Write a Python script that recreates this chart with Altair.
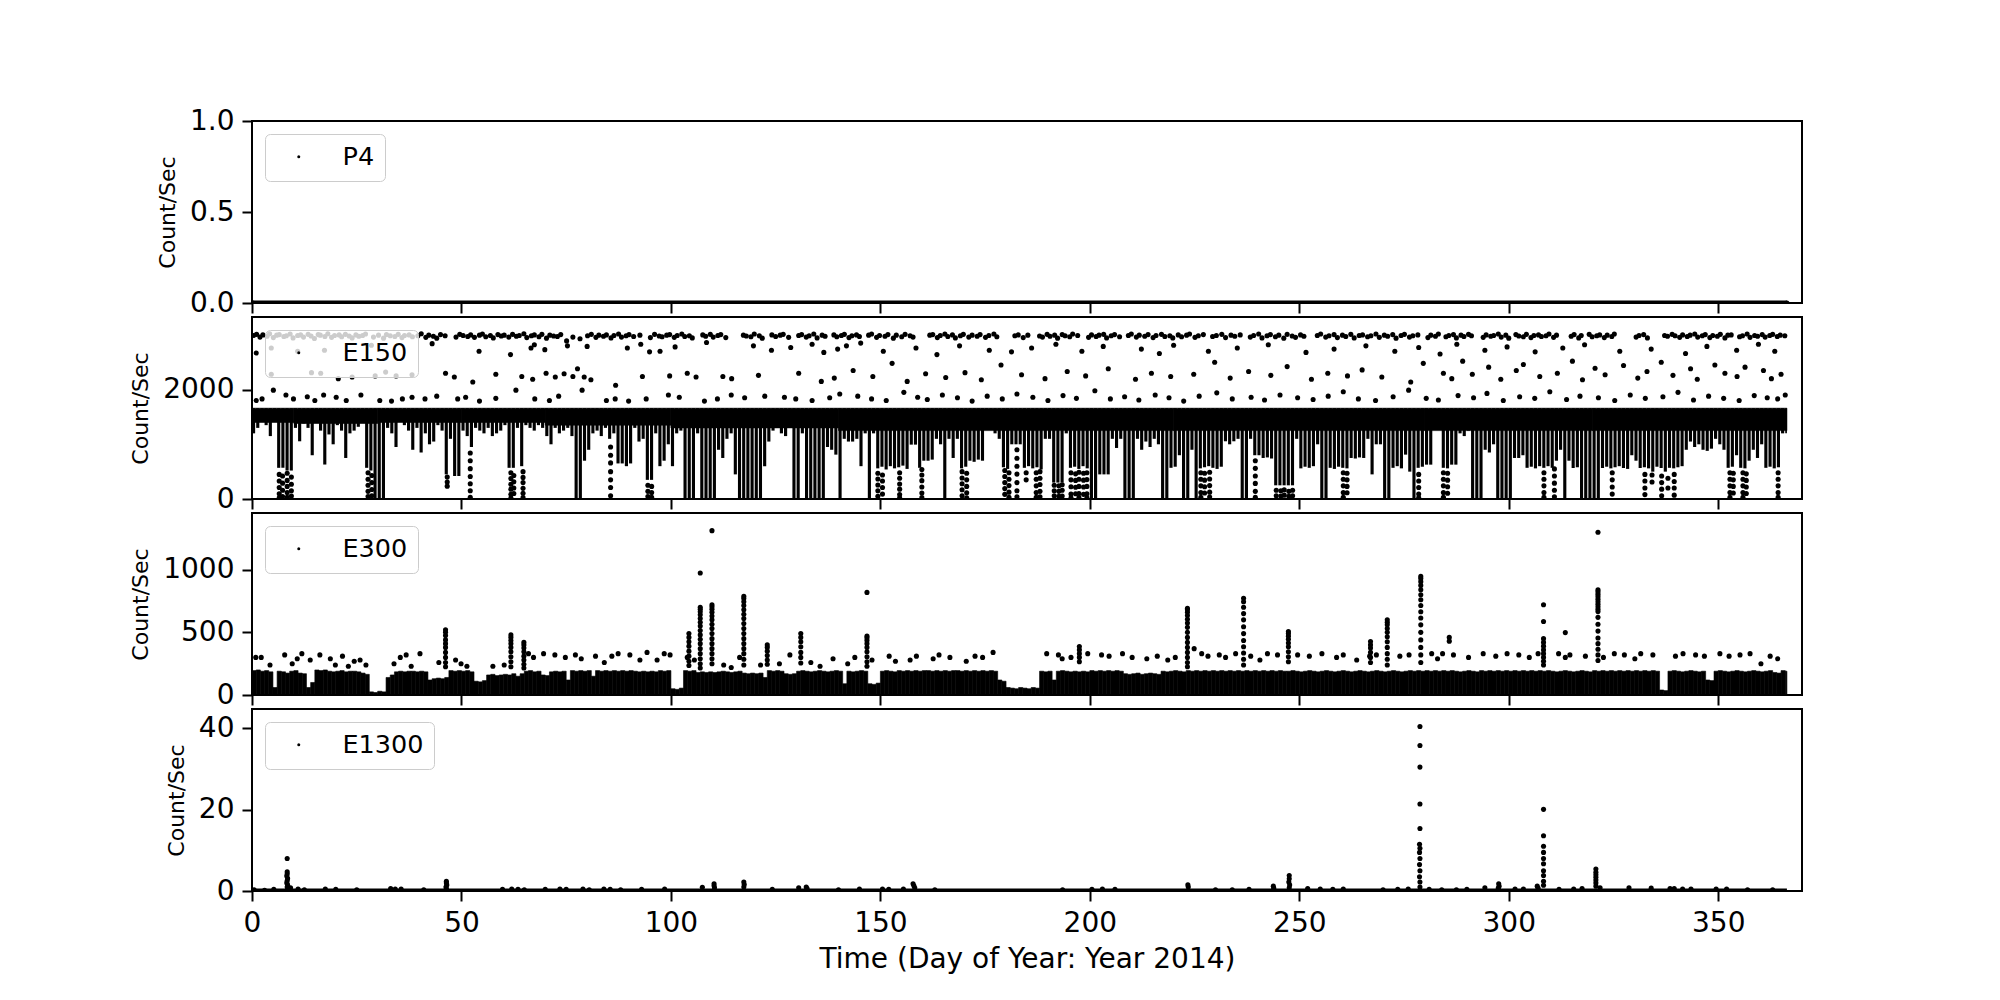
import altair as alt
import pandas as pd

FONT = "DejaVu Sans"
PANEL_W = 1550
PANEL_H = 182

# ---------------- shared axis data ----------------
x_domain = [0, 370]
x_ticks = [0, 50, 100, 150, 200, 250, 300, 350]
x_title = "Time (Day of Year: Year 2014)"
y_title = "Count/Sec"
names = ["P4", "E150", "E300", "E1300"]
y_max = [1.0, 3327, 1453, 44.8]
y_ticks = [[0, 0.5, 1.0], [0, 2000], [0, 500, 1000], [0, 20, 40]]
y_fmt = [".1f", "d", "d", "d"]
data_start = 0.2
data_end = 366.4

# ---------------- P4 (all zero) ----------------
p4_value = 0.0

# ---------------- E150 ----------------
e150_band_top = 1660
# lower edge of the dense band, one value per day (day 0 .. 366)
e150_low = [
    1200, 1300, 1420, 1350, 1150, 1450, 570, 570, 520, 520,
    1300, 1055, 1380, 1300, 800, 1450, 1250, 630, 1180, 1000,
    1350, 1250, 750, 1200, 1250, 1320, 1450, 570, 520, 0,
    0, 0, 1300, 1200, 950, 1420, 1350, 1250, 900, 1300,
    850, 1200, 1000, 1050, 1350, 1250, 450, 1100, 420, 420,
    1250, 1150, 950, 1300, 1250, 1200, 1300, 1150, 1200, 1250,
    1350, 570, 570, 1300, 600, 1350, 1300, 1250, 1350, 1300,
    1150, 1000, 1300, 1200, 1250, 1300, 1150, 0, 0, 700,
    900, 1200, 1250, 1150, 1300, 1100, 1200, 650, 650, 600,
    650, 1300, 1050, 1100, 350, 350, 1200, 600, 700, 1000,
    600, 1200, 1250, 0, 0, 0, 1200, 0, 0, 0,
    0, 900, 750, 1100, 1200, 450, 0, 0, 0, 0,
    0, 0, 600, 1050, 1250, 1300, 1200, 1150, 1300, 0,
    0, 1200, 0, 0, 0, 0, 0, 950, 900, 811,
    0, 1100, 1050, 1050, 1100, 600, 1200, 0, 1200, 560,
    590, 540, 600, 560, 580, 610, 550, 994, 994, 570,
    700, 700, 720, 1100, 1000, 0, 1100, 750, 1100, 560,
    590, 700, 680, 720, 700, 1360, 1360, 1200, 1100, 580,
    550, 1000, 1000, 1000, 570, 600, 560, 580, 540, 1100,
    1100, 300, 300, 300, 1200, 570, 590, 550, 600, 560,
    0, 0, 450, 450, 450, 1100, 933, 1100, 0, 0,
    0, 1100, 900, 1050, 950, 1100, 1000, 0, 0, 570,
    590, 800, 0, 0, 900, 0, 560, 580, 600, 570,
    550, 590, 1055, 1000, 1055, 1100, 0, 0, 1100, 800,
    800, 750, 760, 740, 250, 250, 250, 250, 250, 1100,
    560, 590, 570, 600, 1000, 0, 0, 570, 550, 590,
    570, 560, 750, 740, 760, 750, 1100, 450, 1000, 1000,
    0, 0, 570, 600, 560, 811, 500, 0, 570, 590,
    628, 628, 1300, 1300, 570, 560, 628, 628, 1200, 1150,
    1250, 0, 0, 0, 900, 850, 1000, 0, 0, 0,
    0, 750, 750, 800, 570, 590, 560, 600, 570, 600,
    570, 700, 900, 0, 700, 567, 580, 0, 0, 0,
    0, 0, 567, 590, 560, 580, 600, 567, 550, 800,
    700, 567, 580, 560, 500, 590, 567, 500, 570, 560,
    580, 600, 900, 1050, 950, 1000, 900, 880, 920, 1100,
    1000, 900, 570, 590, 800, 570, 560, 700, 900, 750,
    1000, 570, 590, 560, 580, 1200, 1200,
]
# solid part of the band (start day, end day, lower edge)
e150_base_start = [0, 10, 30, 50, 70, 100, 140, 180, 220, 280, 320]
e150_base_end = [10, 30, 50, 70, 100, 140, 180, 220, 280, 320, 366.4]
e150_base_low = [1400, 1380, 1400, 1400, 1350, 1300, 1250, 1250, 1250, 1250, 1250]
# sparse points below the dips
e150_dot_days = [6.5, 7.3, 8.4, 9.4, 27.7, 28.6, 46.6, 52.1, 61.8, 62.5, 64.7, 85.6, 94.5, 95.4,
                 149.4, 150.5, 154.6, 159.9, 169.5, 170.6, 179.7, 180.7, 182.6, 184.8, 187.2, 188.1,
                 191.5, 192.6, 193.4, 195.5, 196.6, 197.4, 198.5, 199.3, 226.5, 227.4, 228.6, 239.5,
                 244.5, 245.6, 246.4, 247.5, 248.4, 260.5, 261.4, 278.5, 284.4, 285.4, 308.4, 310.9,
                 324.7, 332.5, 334.2, 336.5, 338.0, 339.5, 352.8, 353.6, 355.9, 356.7, 364.3]
e150_dot_vals = [[450, 330, 210, 95, 20], [420, 290, 160, 45], [470, 340, 230, 120, 30], [400, 270, 150, 55],
                 [480, 360, 250, 140, 45], [430, 300, 175, 60], [400, 310, 235], [840, 700, 555, 410, 280, 150, 30],
                 [480, 375, 270, 180, 85, 20], [430, 315, 200, 100], [500, 395, 300, 195, 105, 25],
                 [950, 800, 660, 500, 350, 210, 60], [250, 140, 45], [230, 120, 30],
                 [470, 365, 255, 150, 50], [440, 330, 210, 90], [480, 380, 275, 180, 80, 20],
                 [540, 440, 335, 220, 110, 25], [500, 385, 280, 170, 60], [470, 350, 230, 115, 20],
                 [520, 410, 300, 190, 85], [480, 360, 245, 125, 30], [900, 745, 600, 455, 300, 150, 40],
                 [480, 350], [480, 360, 240, 120, 30], [500, 380, 265, 140, 40], [250, 150, 60],
                 [240, 140, 50], [260, 160, 55], [480, 350, 225, 90, 20], [460, 340, 215, 95],
                 [490, 360, 230, 100, 25], [470, 345, 220, 85], [480, 355, 230, 95, 20],
                 [480, 360, 240, 120, 30], [470, 345, 225, 110], [490, 365, 245, 125, 35],
                 [700, 560, 420, 285, 140, 30], [160, 60], [150, 55], [170, 70], [140, 50], [160, 60],
                 [480, 360, 240, 120, 30], [470, 350, 230, 115], [450, 330, 210, 90, 20],
                 [480, 360, 240, 120, 30], [470, 345, 225, 105], [480, 360, 240, 120, 30],
                 [550, 420, 290, 160, 40], [480, 350, 220, 90], [450, 330, 200, 80], [440, 310],
                 [420, 300, 180, 60], [380, 200], [450, 320, 200, 70], [480, 360, 240, 120, 30],
                 [470, 350, 230, 110], [480, 360, 240, 120, 30], [460, 340, 220, 100], [480, 360, 240, 120, 30]]
# upper scatter: top row near 3000
e150_row1_day = [
    0.4, 1.1, 1.9, 2.6, 3.6, 4.2, 5.1, 5.9, 6.5, 7.6, 8.2, 9.1, 9.8, 10.9, 11.6, 12.3, 13.4, 14.1, 14.9, 15.8,
    16.3, 17.4, 18.1, 19.0, 19.7, 20.8, 21.4, 22.3, 23.2, 23.9, 24.8, 25.5, 26.4, 27.1, 29.0, 30.2, 31.4, 32.1, 33.0, 34.1,
    34.9, 35.8, 36.4, 37.5, 38.3, 39.6, 40.4, 41.5, 42.2, 43.3, 44.1, 45.0, 46.1, 48.7, 49.6, 50.4, 51.5, 52.2, 53.1, 54.3,
    55.0, 55.8, 56.9, 57.6, 58.7, 59.5, 60.2, 61.3, 62.2, 63.1, 63.8, 64.9, 65.6, 66.7, 67.4, 68.5, 69.2, 70.3, 71.1, 72.0,
    72.9, 73.7, 75.1, 76.6, 78.3, 80.1, 81.0, 82.1, 82.8, 83.9, 84.6, 85.7, 86.4, 87.5, 88.2, 89.3, 90.0, 91.1, 92.6, 95.1,
    96.1, 97.2, 97.9, 99.0, 99.7, 100.8, 101.5, 102.6, 103.3, 104.4, 105.1, 107.6, 108.3, 109.4, 110.1, 111.2, 111.9, 113.1, 117.3, 118.0,
    119.1, 119.9, 121.1, 121.8, 124.1, 125.0, 126.1, 126.8, 128.1, 130.5, 131.2, 132.3, 133.0, 134.1, 134.9, 136.1, 136.8, 138.9, 139.6, 140.7,
    141.4, 142.5, 143.2, 144.3, 145.0, 147.2, 147.9, 149.1, 149.8, 151.1, 151.8, 153.1, 153.8, 155.1, 155.9, 157.1, 157.8, 161.8, 162.5, 163.6,
    164.3, 165.4, 166.1, 167.2, 167.9, 169.1, 169.8, 171.1, 171.9, 173.1, 173.8, 175.1, 175.9, 177.1, 177.8, 182.1, 182.9, 184.1, 185.2, 188.0,
    188.7, 189.8, 190.5, 191.6, 192.3, 193.4, 194.1, 195.2, 195.9, 197.1, 199.7, 200.4, 201.5, 202.2, 203.3, 204.0, 205.1, 205.9, 207.1, 209.2,
    209.9, 211.1, 211.8, 213.1, 213.9, 215.1, 215.8, 217.1, 217.9, 219.1, 219.8, 221.1, 221.9, 223.1, 223.8, 225.1, 225.9, 227.1, 229.3, 230.2,
    231.5, 232.4, 233.7, 234.6, 235.9, 238.3, 239.1, 240.3, 241.1, 242.3, 243.1, 244.3, 245.1, 246.3, 247.1, 248.3, 249.1, 250.3, 251.1, 254.3,
    255.1, 256.3, 257.1, 258.3, 259.1, 260.3, 261.1, 262.3, 263.1, 264.3, 265.1, 266.3, 267.1, 268.3, 269.1, 270.3, 271.1, 272.3, 273.1, 274.3,
    275.1, 276.3, 277.1, 278.3, 280.7, 281.4, 282.5, 283.2, 285.0, 285.7, 286.8, 287.5, 288.6, 289.3, 290.4, 291.1, 293.9, 294.6, 295.7, 296.4,
    297.5, 298.2, 299.3, 300.0, 301.7, 302.4, 303.5, 304.2, 305.3, 306.0, 307.1, 307.8, 308.9, 309.6, 310.7, 311.4, 314.9, 315.6, 316.7, 317.3,
    319.2, 319.9, 321.0, 321.7, 322.8, 323.5, 324.6, 325.2, 330.4, 331.1, 332.2, 333.1, 337.2, 337.9, 339.0, 339.7, 340.8, 341.5, 342.6, 343.3,
    344.4, 345.1, 346.2, 346.9, 348.0, 348.7, 349.8, 350.5, 351.6, 352.3, 353.1, 355.1, 355.8, 356.9, 357.6, 358.7, 359.4, 360.5, 361.2, 362.3,
    363.0, 364.1, 364.8, 365.9,
]
e150_row1_val = [
    2990, 3010, 2960, 3000, 2975, 3020, 2950, 2995, 3005, 2970, 2985, 3015, 2945, 2990, 3000, 2960, 3010, 2980, 2935, 3005,
    2995, 2970, 3020, 2955, 2990, 3000, 2965, 3010, 2980, 2945, 3000, 2975, 2990, 3015, 2960, 2995, 2940, 3005, 2985, 2970,
    3010, 2950, 2990, 3000, 2965, 2985, 3020, 2955, 2995, 2975, 2940, 3005, 2985, 2960, 3010, 2990, 2970, 3000, 2955, 2995,
    3015, 2965, 2990, 2945, 3005, 2980, 2995, 2960, 3010, 2975, 2990, 3020, 2950, 2985, 3000, 2965, 3010, 2940, 2995, 2980,
    2970, 3005, 2890, 2960, 2930, 2985, 3010, 2955, 2995, 2975, 3000, 2945, 2990, 3015, 2960, 2985, 3005, 2970, 2995, 2950,
    3010, 2980, 2965, 2995, 3005, 2955, 2990, 3015, 2970, 2985, 2945, 3000, 2975, 3010, 2960, 2990, 3005, 2950, 2995, 2980,
    2965, 3015, 2985, 2940, 3000, 2970, 2995, 3010, 2955, 2990, 3005, 2960, 2985, 3015, 2945, 2995, 2975, 3000, 2965, 2990,
    3010, 2950, 2985, 3000, 2970, 2995, 3015, 2955, 2990, 2975, 3005, 2940, 2995, 2965, 3010, 2985, 2960, 2995, 3005, 2950,
    2990, 3015, 2970, 3000, 2945, 2985, 3010, 2960, 2995, 2975, 3005, 2955, 2990, 3015, 2965, 2985, 3000, 2950, 2995, 2980,
    2960, 3010, 2975, 2995, 2940, 3005, 2985, 2965, 3015, 2990, 2955, 3000, 2970, 2995, 3010, 2945, 2985, 3005, 2965, 2990,
    3015, 2960, 2995, 2975, 3005, 2950, 2990, 3010, 2970, 2985, 2945, 3000, 2965, 2995, 3015, 2955, 2985, 3005, 2970, 2990,
    3010, 2950, 2995, 2975, 3000, 2960, 2990, 3015, 2945, 2985, 3005, 2965, 2995, 2940, 3010, 2980, 2955, 3000, 2975, 2990,
    3015, 2960, 2985, 3005, 2950, 2995, 2970, 3010, 2945, 2990, 3000, 2965, 2985, 3015, 2955, 2995, 2975, 3005, 2940, 2990,
    3010, 2960, 2985, 3000, 2950, 2995, 2975, 3015, 2965, 2990, 3005, 2945, 2995, 2970, 3010, 2985, 2955, 3000, 2975, 2990,
    3015, 2960, 2995, 2940, 3005, 2980, 2965, 3010, 2950, 2990, 3000, 2970, 2985, 3015, 2955, 2995, 2975, 3005, 2945, 2990,
    3010, 2965, 2985, 3000, 2950, 2995, 2970, 3015, 2960, 2990, 3005, 2945, 2990, 2975, 3010, 2985, 2955, 3000, 2970, 2995,
    3015, 2960, 2985, 3005, 2950, 2990, 2975, 3010, 2945, 2995, 3000, 2965, 2985, 3015, 2955, 2990, 2975, 3005, 2960, 2990,
    3010, 2970, 2995, 2985,
]
e150_row2_day = [1.0, 4.6, 10.9, 17.3, 28.5, 43.0, 54.2, 61.7, 66.6, 67.4, 69.9, 75.3, 80.0, 89.6, 92.8,
                 94.9, 97.4, 101.0, 108.5, 119.7, 124.0, 128.6, 133.7, 136.5, 139.8, 141.9, 145.3, 150.7,
                 158.5, 163.5, 168.9, 176.0, 181.3, 186.1, 191.9, 198.1, 203.2, 212.3, 216.6, 220.0, 228.3,
                 235.2, 242.6, 251.6, 258.3, 265.9, 272.8, 278.5, 283.6, 287.6, 294.3, 299.6, 306.3, 312.9,
                 318.1, 326.5, 334.0, 342.2, 347.3, 354.4, 359.6, 363.5]
e150_row2_val = [2670, 2760, 2700, 2720, 2810, 2840, 2700, 2640, 2760, 2820, 2730, 2800, 2790, 2760, 2830,
                 2690, 2700, 2780, 2860, 2800, 2720, 2770, 2830, 2680, 2740, 2800, 2850, 2700, 2760, 2640,
                 2800, 2720, 2690, 2760, 2830, 2700, 2790, 2740, 2660, 2810, 2700, 2760, 2820, 2680, 2740,
                 2800, 2700, 2770, 2650, 2830, 2720, 2780, 2690, 2760, 2820, 2700, 2740, 2660, 2790, 2720,
                 2830, 2700]
e150_row3_day = [4.6, 14.2, 16.4, 20.6, 23.9, 29.4, 31.9, 34.4, 38.2, 46.2, 48.3, 52.7, 58.2, 64.4, 67.0,
                 70.2, 72.4, 74.5, 76.6, 77.7, 79.3, 80.9, 86.8, 93.2, 99.7, 103.9, 106.0, 112.4, 114.5,
                 120.9, 130.5, 135.9, 139.0, 143.5, 148.2, 152.8, 156.4, 160.8, 165.6, 170.2, 174.1, 178.8,
                 183.7, 189.3, 194.6, 199.0, 204.4, 210.9, 214.7, 219.3, 224.8, 229.8, 233.5, 237.9, 243.2,
                 247.1, 252.9, 256.8, 261.5, 265.0, 269.7, 276.6, 279.6, 284.4, 286.4, 289.0, 291.3, 295.2,
                 298.1, 301.8, 303.5, 307.4, 311.6, 315.2, 317.6, 320.6, 323.0, 327.4, 330.8, 333.0, 336.4,
                 339.2, 343.4, 345.0, 349.2, 351.6, 354.5, 356.4, 360.8, 362.7, 365.0]
e150_row3_val = [2280, 2310, 2300, 2200, 2230, 2250, 2320, 2250, 2270, 2300, 2230, 2140, 2280, 2240, 2190,
                 2300, 2230, 2290, 2240, 2380, 2230, 2180, 2080, 2240, 2250, 2300, 2230, 2240, 2200, 2260,
                 2300, 2150, 2210, 2350, 2240, 2480, 2150, 2290, 2220, 2310, 2180, 2450, 2270, 2200, 2330,
                 2250, 2380, 2190, 2300, 2240, 2280, 2500, 2210, 2330, 2260, 2420, 2190, 2300, 2250, 2360,
                 2230, 2140, 2480, 2300, 2200, 2520, 2280, 2410, 2190, 2350, 2460, 2240, 2300, 2520, 2180,
                 2390, 2270, 2440, 2210, 2330, 2500, 2260, 2380, 2190, 2450, 2300, 2240, 2410, 2350, 2200,
                 2280]
e150_row4_day = [1.0, 2.4, 5.1, 8.1, 9.9, 13.2, 15.0, 17.1, 20.1, 22.5, 26.0, 30.5, 33.3, 35.9, 38.2,
                 41.3, 44.1, 49.1, 51.0, 54.3, 58.2, 63.0, 67.5, 71.0, 73.2, 78.8, 84.6, 86.7, 89.9, 94.1,
                 99.4, 102.0, 108.0, 111.1, 114.4, 117.6, 122.4, 127.1, 129.8, 133.7, 137.9, 140.3, 144.6,
                 147.9, 151.4, 155.6, 158.9, 161.2, 164.8, 168.4, 171.9, 175.5, 179.1, 182.6, 186.4, 190.0,
                 193.6, 196.8, 201.2, 204.9, 208.3, 211.7, 215.6, 218.9, 222.4, 226.1, 230.3, 234.0, 238.5,
                 241.7, 245.4, 249.6, 253.3, 256.9, 260.5, 264.1, 268.2, 272.4, 276.1, 280.3, 283.2, 287.9,
                 291.6, 294.8, 298.7, 302.6, 306.2, 309.8, 313.8, 317.0, 321.4, 325.3, 329.0, 332.6, 336.8,
                 340.4, 344.1, 347.7, 351.3, 355.0, 358.6, 361.7, 364.2, 366.0]
e150_row4_val = [1800, 1830, 1990, 1900, 1830, 1870, 1800, 1900, 1860, 1800, 1900, 1800, 1790, 1830, 1860,
                 1830, 1880, 1830, 1860, 1790, 1840, 1990, 1830, 1800, 1880, 1990, 1800, 1830, 1790, 1830,
                 1900, 1860, 1790, 1830, 1900, 1850, 1880, 1860, 1830, 1800, 1850, 1920, 1880, 1830, 1800,
                 1950, 1860, 1820, 1900, 1850, 1790, 1880, 1830, 1920, 1860, 1800, 1890, 1840, 1980, 1830,
                 1870, 1810, 1900, 1850, 1790, 1880, 1940, 1830, 1860, 1810, 1900, 1850, 1820, 1880, 1960,
                 1830, 1800, 1870, 1990, 1840, 1810, 1890, 1850, 1930, 1800, 1870, 1840, 1960, 1820, 1880,
                 1850, 1800, 1900, 1840, 1870, 1950, 1810, 1880, 1840, 1800, 1890, 1850, 1830, 1900]

# ---------------- E300 ----------------
# top of the dense band, one value per day (day 0 .. 366)
e300_top = [
    195, 200, 190, 195, 185, 60, 190, 185, 175, 190,
    195, 175, 170, 60, 100, 200, 195, 200, 190, 185,
    190, 195, 185, 190, 190, 185, 175, 165, 25, 20,
    30, 25, 140, 160, 185, 190, 185, 190, 190, 185,
    190, 185, 120, 130, 135, 130, 140, 195, 190, 195,
    190, 195, 185, 110, 105, 115, 160, 165, 155, 160,
    165, 160, 170, 150, 170, 190, 195, 185, 190, 160,
    155, 185, 190, 185, 190, 120, 195, 190, 195, 190,
    195, 150, 195, 190, 195, 190, 195, 190, 195, 190,
    195, 190, 185, 190, 185, 190, 185, 195, 190, 195,
    50, 45, 55, 195, 190, 195, 180, 185, 180, 185,
    180, 185, 190, 185, 180, 185, 190, 175, 170, 175,
    170, 175, 140, 195, 190, 195, 190, 170, 165, 170,
    190, 195, 190, 185, 190, 195, 190, 185, 190, 195,
    190, 90, 190, 185, 190, 195, 190, 90, 85, 95,
    190, 195, 190, 185, 195, 190, 195, 190, 195, 190,
    195, 195, 190, 195, 190, 195, 190, 195, 195, 190,
    195, 190, 195, 190, 195, 190, 195, 190, 120, 110,
    60, 55, 50, 60, 55, 50, 60, 55, 190, 185,
    190, 120, 190, 195, 190, 185, 190, 185, 190, 185,
    195, 190, 195, 190, 195, 190, 195, 190, 170, 165,
    170, 175, 165, 170, 175, 170, 165, 190, 185, 190,
    195, 190, 185, 195, 190, 195, 190, 195, 190, 195,
    190, 195, 190, 195, 190, 195, 190, 195, 190, 195,
    190, 195, 190, 195, 190, 195, 190, 190, 195, 190,
    185, 190, 195, 190, 185, 190, 195, 190, 185, 190,
    195, 190, 185, 190, 195, 190, 185, 190, 195, 190,
    185, 190, 195, 190, 185, 190, 195, 190, 195, 190,
    195, 190, 195, 190, 195, 190, 195, 190, 185, 190,
    195, 190, 185, 195, 190, 195, 190, 195, 190, 195,
    190, 195, 190, 195, 190, 195, 190, 195, 190, 195,
    190, 185, 190, 195, 190, 185, 190, 195, 190, 185,
    195, 190, 195, 190, 195, 190, 195, 190, 195, 190,
    195, 190, 195, 190, 195, 190, 40, 35, 190, 195,
    190, 185, 190, 195, 190, 185, 190, 120, 115, 190,
    195, 190, 185, 190, 195, 190, 185, 190, 195, 190,
    185, 190, 195, 180, 175, 195, 190,
]
e300_spike_days = [46.2, 61.8, 64.9, 104.3, 107.0, 109.8, 117.4, 123.0, 131.0, 146.8, 197.5, 223.3,
                   236.7, 247.4, 267.0, 271.0, 279.0, 285.8, 308.3, 313.5, 321.3]
e300_spike_vals = [
    [520, 500, 475, 440, 410, 380, 340, 300, 260, 225],
    [480, 460, 435, 410, 380, 345, 305, 265, 225],
    [420, 400, 375, 345, 310, 280, 245, 215],
    [490, 460, 425, 390, 350, 310, 270, 235],
    [974, 700, 685, 665, 640, 610, 580, 550, 515, 480, 445, 410, 370, 330, 290, 250, 215],
    [1312, 720, 705, 685, 660, 630, 600, 565, 530, 490, 450, 410, 370, 330, 290, 250],
    [787, 770, 745, 715, 680, 645, 610, 570, 530, 490, 450, 410, 370, 330, 285, 240],
    [400, 380, 350, 315, 280, 245],
    [490, 460, 425, 385, 340, 300, 255],
    [819, 470, 455, 435, 410, 380, 345, 305, 265, 230],
    [387, 360, 330, 300, 265],
    [693, 680, 660, 635, 605, 575, 540, 500, 460, 420, 380, 340, 300, 260, 225],
    [773, 745, 700, 650, 600, 545, 490, 435, 385, 335, 285, 240],
    [507, 490, 470, 445, 415, 385, 345, 305, 265],
    [427, 400, 375, 340, 300, 260],
    [600, 580, 560, 530, 500, 465, 425, 380, 330, 285, 240],
    [947, 930, 905, 875, 840, 800, 760, 715, 665, 615, 560, 500, 440, 380, 320, 260],
    [460, 430],
    [720, 587, 450, 420, 390, 360, 330, 300, 270, 240],
    [498, 300],
    [1299, 840, 825, 805, 785, 765, 745, 725, 705, 685, 666, 620, 565, 510, 455, 410, 365, 320, 275],
]
e300_scatter = [
    (0.9, 300), (2.2, 300), (4.3, 240), (7.8, 320), (9.6, 250), (10.8, 290), (11.9, 330), (13.9, 280),
    (16.2, 320), (18.7, 290), (19.9, 240), (21.6, 310), (23.0, 230), (24.4, 270), (25.8, 280), (27.2, 240),
    (33.9, 250), (35.4, 300), (36.8, 320), (38.0, 230), (40.1, 330), (44.6, 260), (48.6, 280), (49.9, 250),
    (51.3, 230), (57.5, 230), (60.2, 240), (66.0, 330), (67.2, 300), (69.6, 330), (72.3, 320), (74.8, 300),
    (77.2, 320), (78.6, 290), (82.0, 310), (84.1, 260), (85.9, 310), (87.4, 330), (90.2, 320), (92.6, 280),
    (94.3, 340), (96.7, 280), (98.4, 330), (99.8, 320), (103.9, 300), (105.6, 280), (112.6, 240), (114.4, 220),
    (116.4, 300), (121.4, 240), (125.9, 250), (128.4, 320), (133.4, 260), (135.6, 230), (138.7, 290), (142.2, 250),
    (143.9, 300), (148.0, 280), (152.1, 310), (153.6, 270), (157.1, 280), (158.6, 310), (162.6, 290), (164.0, 320),
    (166.6, 300), (170.5, 270), (172.6, 310), (174.4, 300), (176.9, 340), (189.7, 330), (192.5, 320), (193.4, 290),
    (195.5, 300), (199.5, 330), (202.8, 320), (204.6, 310), (207.8, 330), (210.1, 300), (213.6, 290), (216.1, 310),
    (218.6, 280), (220.4, 300), (224.9, 370), (226.7, 330), (228.2, 310), (230.9, 320), (232.4, 300), (234.8, 330),
    (238.4, 310), (240.6, 280), (242.4, 330), (244.8, 320), (249.6, 320), (252.4, 310), (255.4, 330), (258.9, 300),
    (260.5, 320), (263.7, 280), (266.8, 310), (268.4, 320), (274.0, 310), (276.2, 320), (281.6, 330), (283.0, 290),
    (284.2, 330), (286.8, 320), (290.4, 300), (293.9, 330), (296.9, 310), (299.6, 330), (302.4, 320), (304.9, 300),
    (307.0, 330), (311.9, 330), (314.6, 320), (318.3, 310), (322.6, 300), (325.2, 330), (327.6, 320), (330.1, 290),
    (331.5, 330), (334.4, 320), (339.8, 310), (341.6, 330), (344.6, 320), (346.7, 310), (350.4, 330), (352.6, 310),
    (355.2, 320), (357.6, 330), (360.2, 250), (362.4, 310), (364.2, 290),
]

# ---------------- E1300 ----------------
e1300_points = [
    (0.5, 0.3), (3.0, 0.2), (5.2, 0.4), (8.4, 8.0), (8.4, 4.7), (8.4, 4.2), (8.3, 3.7), (8.5, 3.1), (8.4, 2.5),
    (8.3, 2.0), (8.5, 1.5), (8.4, 1.0), (8.6, 0.6), (9.2, 0.8), (11.0, 0.5), (12.5, 0.3), (17.5, 0.5), (20.0, 0.4),
    (25.0, 0.3), (33.1, 0.6), (34.2, 0.5), (35.6, 0.5), (41.0, 0.3), (46.4, 2.4), (46.4, 2.0), (46.5, 1.5),
    (46.3, 1.0), (46.4, 0.6), (59.8, 0.4), (62.0, 0.5), (63.5, 0.4), (65.0, 0.3), (70.0, 0.4), (73.5, 0.5),
    (75.0, 0.4), (79.0, 0.5), (80.5, 0.3), (84.0, 0.5), (85.5, 0.4), (88.0, 0.3), (93.0, 0.4), (98.5, 0.5),
    (107.5, 0.9), (110.3, 1.8), (110.3, 1.3), (110.4, 0.8), (117.4, 2.2), (117.5, 1.6), (117.4, 1.0), (124.2, 0.4),
    (130.5, 0.8), (132.3, 1.0), (132.5, 0.6), (140.0, 0.3), (145.0, 0.5), (150.5, 0.5), (152.0, 0.4), (155.5, 0.5),
    (157.8, 1.8), (158.0, 1.3), (158.2, 0.8), (163.0, 0.3), (193.5, 0.3), (200.5, 0.4), (203.0, 0.5), (206.0, 0.4),
    (223.4, 1.5), (223.5, 1.0), (230.0, 0.3), (234.0, 0.3), (238.0, 0.4), (243.8, 1.2), (243.9, 0.7), (247.6, 3.8),
    (247.6, 3.0), (247.5, 2.2), (247.7, 1.5), (247.6, 0.8), (252.0, 0.6), (255.0, 0.5), (258.0, 0.4), (260.5, 0.5),
    (270.0, 0.3), (273.5, 0.4), (276.0, 0.5), (278.8, 40.5), (278.8, 35.8), (278.8, 30.5), (278.8, 21.4),
    (278.8, 15.4), (278.7, 11.5), (278.8, 10.5), (278.7, 9.5), (278.8, 8.0), (278.7, 6.5), (278.8, 5.0),
    (278.7, 3.5), (278.8, 2.2), (278.8, 1.0), (281.0, 0.4), (284.0, 0.3), (287.5, 0.3), (290.0, 0.4), (294.3, 0.8),
    (297.6, 1.8), (297.7, 1.2), (297.5, 0.7), (301.5, 0.5), (303.5, 0.5), (306.8, 1.2), (307.0, 0.7),
    (308.3, 20.1), (308.3, 13.6), (308.3, 11.0), (308.3, 9.5), (308.3, 8.0), (308.3, 6.7), (308.3, 5.0),
    (308.3, 3.8), (308.3, 2.4), (308.3, 1.4), (312.0, 0.4), (315.5, 0.5), (317.5, 0.6), (320.8, 5.4), (320.8, 4.6),
    (320.8, 4.0), (320.8, 3.4), (320.8, 2.7), (320.8, 2.0), (320.8, 1.2), (321.8, 0.8), (328.7, 0.8), (334.0, 0.7),
    (338.5, 0.6), (339.5, 0.6), (341.5, 0.5), (343.5, 0.5), (349.5, 0.5), (352.0, 0.5), (357.0, 0.3), (363.0, 0.3),
]


# ---------------- helpers ----------------
def X(field, i):
    last = i == 3
    axis = alt.Axis(values=x_ticks, labels=last, labelFlush=False, format="d")
    return alt.X(f"{field}:Q", scale=alt.Scale(domain=x_domain, nice=False, zero=False),
                 axis=axis, title=x_title if last else None)


def Y(field, i):
    return alt.Y(f"{field}:Q", scale=alt.Scale(domain=[0, y_max[i]], nice=False, zero=False),
                 axis=alt.Axis(values=y_ticks[i], format=y_fmt[i], labelFlush=False), title=y_title)


def legend_color(i):
    return alt.Color("series:N", scale=alt.Scale(domain=[names[i]], range=["black"]),
                     legend=alt.Legend(title=None, orient="top-left", offset=13, padding=10,
                                       fillColor="rgba(255,255,255,0.8)", strokeColor="#cccccc",
                                       cornerRadius=5, labelFont=FONT, labelFontSize=25.5,
                                       labelColor="black", symbolType="circle", symbolSize=9,
                                       symbolStrokeWidth=0, symbolOffset=11, labelOffset=31))


def points_df(pairs, name):
    return pd.DataFrame({"day": [p[0] for p in pairs], "value": [p[1] for p in pairs], "series": name})


PT = dict(size=26, opacity=1, clip=True)
RECT = dict(color="black", stroke="black", strokeWidth=0.6, clip=True)
SPIKE = dict(color="black", strokeWidth=0, clip=True)

# ---------------- panel P4 ----------------
p4_line_df = pd.DataFrame({"start": [data_start], "end": [data_end], "value": [p4_value]})
p4_pts_df = points_df([(data_start, p4_value), (data_end, p4_value)], "P4")
panel1 = alt.layer(
    alt.Chart(p4_line_df).mark_rule(color="black", strokeWidth=5, clip=True).encode(
        x=X("start", 0), x2="end:Q", y=Y("value", 0)),
    alt.Chart(p4_pts_df).mark_circle(**PT).encode(x=X("day", 0), y=Y("value", 0), color=legend_color(0)),
).properties(width=PANEL_W, height=PANEL_H)

# ---------------- panel E150 ----------------
e150_base_df = pd.DataFrame({"start": e150_base_start, "end": e150_base_end, "low": e150_base_low,
                             "top": e150_band_top})
e150_spike_df = pd.DataFrame({"start": list(range(len(e150_low))),
                              "end": [min(d + 0.75, data_end) for d in range(len(e150_low))],
                              "low": e150_low, "top": e150_band_top})
e150_pairs = []
for d, vals in zip(e150_dot_days, e150_dot_vals):
    e150_pairs += [(d, v) for v in vals]
for days, vals in ((e150_row1_day, e150_row1_val), (e150_row2_day, e150_row2_val),
                   (e150_row3_day, e150_row3_val), (e150_row4_day, e150_row4_val)):
    e150_pairs += list(zip(days, vals))
panel2 = alt.layer(
    alt.Chart(e150_base_df).mark_rect(**RECT).encode(
        x=X("start", 1), x2="end:Q", y=Y("low", 1), y2="top:Q"),
    alt.Chart(e150_spike_df).mark_rect(**SPIKE).encode(
        x=X("start", 1), x2="end:Q", y=Y("low", 1), y2="top:Q"),
    alt.Chart(points_df(e150_pairs, "E150")).mark_circle(**PT).encode(
        x=X("day", 1), y=Y("value", 1), color=legend_color(1)),
).properties(width=PANEL_W, height=PANEL_H)

# ---------------- panel E300 ----------------
e300_band_df = pd.DataFrame({"start": list(range(len(e300_top))),
                             "end": [min(d + 1, data_end) for d in range(len(e300_top))],
                             "low": 0, "top": e300_top})
e300_pairs = []
for d, vals in zip(e300_spike_days, e300_spike_vals):
    e300_pairs += [(d, v) for v in vals]
e300_pairs += e300_scatter
panel3 = alt.layer(
    alt.Chart(e300_band_df).mark_rect(**RECT).encode(
        x=X("start", 2), x2="end:Q", y=Y("low", 2), y2="top:Q"),
    alt.Chart(points_df(e300_pairs, "E300")).mark_circle(**PT).encode(
        x=X("day", 2), y=Y("value", 2), color=legend_color(2)),
).properties(width=PANEL_W, height=PANEL_H)

# ---------------- panel E1300 ----------------
e1300_line_df = pd.DataFrame({"start": [data_start], "end": [data_end], "value": [0.0]})
panel4 = alt.layer(
    alt.Chart(e1300_line_df).mark_rule(color="black", strokeWidth=5, clip=True).encode(
        x=X("start", 3), x2="end:Q", y=Y("value", 3)),
    alt.Chart(points_df(e1300_points, "E1300")).mark_circle(**PT).encode(
        x=X("day", 3), y=Y("value", 3), color=legend_color(3)),
).properties(width=PANEL_W, height=PANEL_H)

chart = alt.vconcat(panel1, panel2, panel3, panel4, spacing=14, bounds="flush").resolve_scale(
    color="independent", y="independent").resolve_legend(color="independent").properties(
    padding={"left": 120, "top": 98, "right": 10, "bottom": 10}
).configure_view(stroke="black", strokeWidth=2).configure_axis(
    domain=False, grid=False, tickColor="black", tickWidth=2, tickSize=10,
    labelFont=FONT, labelFontSize=28, labelColor="black", labelPadding=8,
    titleFont=FONT, titleFontWeight="normal", titleColor="black",
).configure_axisY(titleFontSize=22, titlePadding=10).configure_axisX(titleFontSize=28, titlePadding=8)

chart.save("out.html", embed_options={"renderer": "svg", "actions": False})
